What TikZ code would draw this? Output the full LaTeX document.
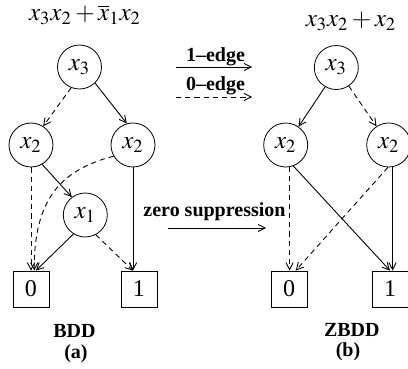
\documentclass[tikz,border=0pt]{standalone}
\usepackage{mathptmx}
\usepackage{fontspec}
\setmainfont{Liberation Serif}
\usetikzlibrary{arrows.meta}
\tikzstyle{vnode}=[circle, draw, minimum size=22pt, inner sep=0pt, font=\fontsize{12.5}{15}\selectfont]
\tikzset{
  leaf/.style={
    rectangle,
    draw,
    minimum size=18pt,
    inner sep=0pt,
    font=\fontsize{12}{14}\selectfont},
  oneedge/.style={
    line width=0.45pt,
    -{Straight Barb[length=3.5pt,width=3.6pt]}},
  zeroedge/.style={
    oneedge,
    dash pattern=on 2.6pt off 2pt},
  caption/.style={
    inner sep=0pt,
    font=\bfseries\fontsize{10}{12}\selectfont}
}

\begin{document}
\begin{tikzpicture}[x=0.5pt, y=-0.5pt]
  \useasboundingbox (0,0) rectangle (408,369);

  % BDD
  \node[anchor=base] (bddfunc) at (85,21) {\fontsize{12.5}{15}\selectfont $x_3x_2+\overline{x}_1x_2$};
  \node (bddxthree) [vnode] at (79.5,67) {$x_3$};
  \node (bddxtwoa) [vnode] at (31,145) {$x_2$};
  \node (bddxtwob) [vnode] at (133,145) {$x_2$};
  \node (bddxone) [vnode] at (85.3,215) {$x_1$};
  \node (bddleafzero) [leaf] at (31,289) {0};
  \node (bddleafone) [leaf] at (139,289) {1};

  \draw[zeroedge] (bddxthree.248) -- (bddxtwoa.57);
  \draw[oneedge] (bddxthree.314) -- (bddxtwob.106);
  \draw[oneedge] (bddxtwoa.300) -- (bddxone.127);
  \draw[zeroedge] (bddxtwoa.south) -- (bddxtwoa.south |- bddleafzero.north);
  \draw[zeroedge] (bddxtwob.210) .. controls (60,170) and (34,200) .. (bddleafzero.80);
  \draw[oneedge] (bddxone.238) -- (bddleafzero.75);
  \draw[zeroedge] (bddxone.298) -- (bddleafone.108);
  \draw[oneedge] (bddxtwob.south) -- (bddxtwob.south |- bddleafone.north);

  \node[caption] (bddname) at (74.5,331) {BDD};
  \node[caption] (bddtag) at (76,353.5) {(a)};

  % Edge key
  \coordinate (keyonea) at (176,67);
  \coordinate (keyoneb) at (252,67);
  \coordinate (keyzeroa) at (176,97);
  \coordinate (keyzerob) at (252,97);
  \node[caption] (keyonetext) at (215.5,57) {1--edge};
  \node[caption] (keyzerotext) at (215.5,86) {0--edge};
  \draw[oneedge] (keyonea) -- (keyoneb);
  \draw[zeroedge] (keyzeroa) -- (keyzerob);

  % Zero suppression
  \coordinate (supa) at (168,228);
  \coordinate (supb) at (266,228);
  \node[caption] (suptext) at (214.5,212) {zero suppression};
  \draw[oneedge] (supa) -- (supb);

  % ZBDD
  \node[anchor=base] (zbddfunc) at (351,27) {\fontsize{12.5}{15}\selectfont $x_3x_2+x_2$};
  \node (zbddxthree) [vnode] at (336.3,67.5) {$x_3$};
  \node (zbddxtwoa) [vnode] at (285.7,145) {$x_2$};
  \node (zbddxtwob) [vnode] at (388.7,145) {$x_2$};
  \node (zbddleafzero) [leaf] at (289,289) {0};
  \node (zbddleafone) [leaf] at (390,289) {1};

  \draw[oneedge] (zbddxthree.240) -- (zbddxtwoa.55);
  \draw[zeroedge] (zbddxthree.304) -- (zbddxtwob.123);
  \draw[zeroedge] (zbddxtwoa.280) -- (zbddxtwoa.280 |- zbddleafzero.north);
  \draw[oneedge] (zbddxtwoa.290) -- (zbddleafone.north);
  \draw[zeroedge] (zbddxtwob.268) -- (zbddleafzero.70);
  \draw[oneedge] (zbddxtwob.280) -- (zbddxtwob.280 |- zbddleafone.north);

  \node[caption] (zbddname) at (351.8,329.5) {ZBDD};
  \node[caption] (zbddtag) at (348,351.5) {(b)};
\end{tikzpicture}
\end{document}
